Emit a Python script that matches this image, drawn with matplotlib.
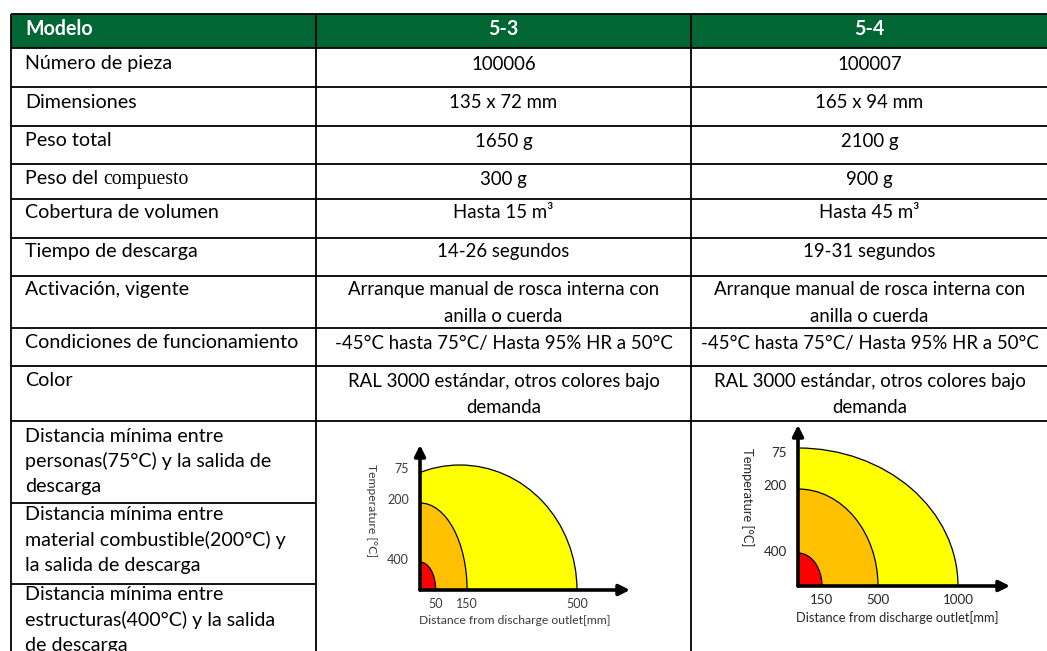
import matplotlib
matplotlib.use("Agg")
import matplotlib.pyplot as plt
from matplotlib.patches import Ellipse, Rectangle

# ---------------- data ----------------
header = ["Modelo", "5-3", "5-4"]
row_labels = [
    "Número de pieza",
    "Dimensiones",
    "Peso total",
    "Peso del compuesto",
    "Cobertura de volumen",
    "Tiempo de descarga",
    "Activación, vigente",
    "Condiciones de funcionamiento",
    "Color",
]
values_53 = [
    ["100006"],
    ["135 x 72 mm"],
    ["1650 g"],
    ["300 g"],
    ["Hasta 15 m³"],
    ["14-26 segundos"],
    ["Arranque manual de rosca interna con", "anilla o cuerda"],
    ["-45°C hasta 75°C/ Hasta 95% HR a 50°C"],
    ["RAL 3000 estándar, otros colores bajo", "demanda"],
]
values_54 = [
    ["100007"],
    ["165 x 94 mm"],
    ["2100 g"],
    ["900 g"],
    ["Hasta 45 m³"],
    ["19-31 segundos"],
    ["Arranque manual de rosca interna con", "anilla o cuerda"],
    ["-45°C hasta 75°C/ Hasta 95% HR a 50°C"],
    ["RAL 3000 estándar, otros colores bajo", "demanda"],
]
distance_labels = [
    ["Distancia mínima entre", "personas(75°C) y la salida de", "descarga"],
    ["Distancia mínima entre", "material combustible(200°C) y", "la salida de descarga"],
    ["Distancia mínima entre", "estructuras(400°C) y la salida", "de descarga"],
]
temps = [75, 200, 400]
dist_53 = [500, 150, 50]      # mm
dist_54 = [1000, 500, 150]    # mm
zone_colors = ["#FFFF00", "#FFC000", "#FF0000"]

# ---------------- layout ----------------
W, H, DPI = 1047, 651, 100
FONT = "Lato"
FS_LAB = 14.1
FS_VAL = 13.4
GREEN = "#006633"

fig = plt.figure(figsize=(W / DPI, H / DPI), dpi=DPI)
ax = fig.add_axes([0, 0, 1, 1])
ax.set_xlim(0, W)
ax.set_ylim(H, 0)
ax.axis("off")

x_left, x_c1, x_c2, x_right = 11, 316, 691, 1048
y_top, y_head = 14, 48
row_lines = [87, 126, 164, 199, 238, 276, 328, 366, 421]
row_text_y = [64, 102, 141, 179, 213, 251, 290, 343, 381]
line_step = 26.5
dist_lines = [503, 584]
dist_text_y = [436, 515, 595]
dist_step = 25.3

# header band
ax.add_patch(Rectangle((x_left, y_top), x_right - x_left, y_head - y_top,
                       facecolor=GREEN, edgecolor="none", zorder=1))
LW = 1.3
for y in [y_top, y_head] + row_lines:
    ax.plot([x_left, x_right], [y, y], color="black", lw=LW, zorder=3,
            solid_capstyle="butt")
for y in dist_lines:
    ax.plot([x_left, x_c1], [y, y], color="black", lw=LW, zorder=3,
            solid_capstyle="butt")
for x in [x_left, x_c1, x_c2]:
    ax.plot([x, x], [y_top, H + 5], color="black", lw=LW, zorder=3,
            solid_capstyle="butt")

tx = 25
col_centers = [(x_c1 + x_c2) / 2, (x_c2 + x_right) / 2]
head_y = 29
ax.text(tx, head_y, header[0], color="white", fontweight="bold",
        fontsize=FS_LAB, family=FONT, ha="left", va="center", zorder=4)
for cx, h in zip(col_centers, header[1:]):
    ax.text(cx, head_y, h, color="white", fontweight="bold",
            fontsize=FS_LAB, family=FONT, ha="center", va="center", zorder=4)

fig.canvas.draw()
renderer = fig.canvas.get_renderer()
inv = ax.transData.inverted()

for i, (lab, y) in enumerate(zip(row_labels, row_text_y)):
    if i == 3:
        pre, last = lab.rsplit(" ", 1)
        t1 = ax.text(tx, y + 5, pre + " ", fontsize=FS_LAB, family=FONT,
                     ha="left", va="baseline", zorder=4)
        bb = t1.get_window_extent(renderer)
        x_end = inv.transform((bb.x1, bb.y0))[0]
        ax.text(x_end, y + 5, last, fontsize=FS_LAB, family="Liberation Serif",
                ha="left", va="baseline", zorder=4)
    else:
        ax.text(tx, y, lab, fontsize=FS_LAB, family=FONT, ha="left",
                va="center", zorder=4)
    for cx, vals in zip(col_centers, [values_53[i], values_54[i]]):
        for k, v in enumerate(vals):
            ax.text(cx, y + k * line_step, v, fontsize=FS_VAL, family=FONT,
                    ha="center", va="center", zorder=4)

for lines, y0 in zip(distance_labels, dist_text_y):
    for k, l in enumerate(lines):
        ax.text(tx, y0 + k * dist_step, l, fontsize=FS_LAB, family=FONT,
                ha="left", va="center", zorder=4)


# ---------------- charts ----------------
def zone_chart(origin, size_px, px_per_mm, dists, heights, tick_heights,
               shift_mm, fs, tcolor, ylab_xy, xlab_xy):
    ox, oy = origin
    wpx, hpx = size_px
    a = fig.add_axes([ox / W, 1 - oy / H, wpx / W, hpx / H])
    a.patch.set_alpha(0)
    a.set_xlim(0, wpx / px_per_mm)
    a.set_ylim(0, hpx)
    for sp in a.spines.values():
        sp.set_visible(False)
    for j, (d, h, c) in enumerate(zip(dists, heights, zone_colors)):
        cxm = shift_mm[j]
        e = Ellipse((cxm, 0), 2 * (d - cxm), 2 * h, facecolor=c,
                    edgecolor="black", lw=0.9, zorder=2 + j)
        a.add_patch(e)
    a.annotate("", xy=(1, 0), xytext=(0, 0), xycoords="axes fraction",
               arrowprops=dict(arrowstyle="-|>", lw=2.6, color="black",
                               mutation_scale=16, shrinkA=0, shrinkB=0),
               zorder=10, annotation_clip=False)
    a.annotate("", xy=(0, 1), xytext=(0, 0), xycoords="axes fraction",
               arrowprops=dict(arrowstyle="-|>", lw=2.6, color="black",
                               mutation_scale=16, shrinkA=0, shrinkB=0),
               zorder=10, annotation_clip=False)
    a.set_xticks(dists)
    a.set_xticklabels([str(d) for d in dists])
    a.set_yticks(tick_heights)
    a.set_yticklabels([str(t) for t in temps])
    a.tick_params(length=0, labelsize=fs, labelcolor=tcolor)
    a.tick_params(axis="x", pad=6)
    a.tick_params(axis="y", pad=8)
    for lbl in a.get_xticklabels() + a.get_yticklabels():
        lbl.set_family(FONT)
    a.set_xlabel("Distance from discharge outlet[mm]", fontsize=fs - 0.3,
                 family=FONT, color=tcolor, va="center")
    a.xaxis.set_label_coords(*xlab_xy)
    a.set_ylabel("Temperature [°C]", fontsize=fs - 0.3, family=FONT,
                 color=tcolor, rotation=270, va="center", ha="center")
    a.yaxis.set_label_coords(*ylab_xy)
    return a


zone_chart(origin=(420, 590), size_px=(210, 145), px_per_mm=157 / 500,
           dists=dist_53, heights=[125, 87, 28], tick_heights=[122, 91, 31],
           shift_mm=[127, 0, 0], fs=9, tcolor="#3a3a3a",
           ylab_xy=(-0.229, 0.55), xlab_xy=(0.452, -0.207))
zone_chart(origin=(798, 586), size_px=(212, 161), px_per_mm=160 / 1000,
           dists=dist_54, heights=[138, 97, 33], tick_heights=[134, 101, 35],
           shift_mm=[0, 0, 0], fs=9.6, tcolor="#262626",
           ylab_xy=(-0.24, 0.55), xlab_xy=(0.467, -0.193))

fig.savefig("out.png", dpi=DPI)
